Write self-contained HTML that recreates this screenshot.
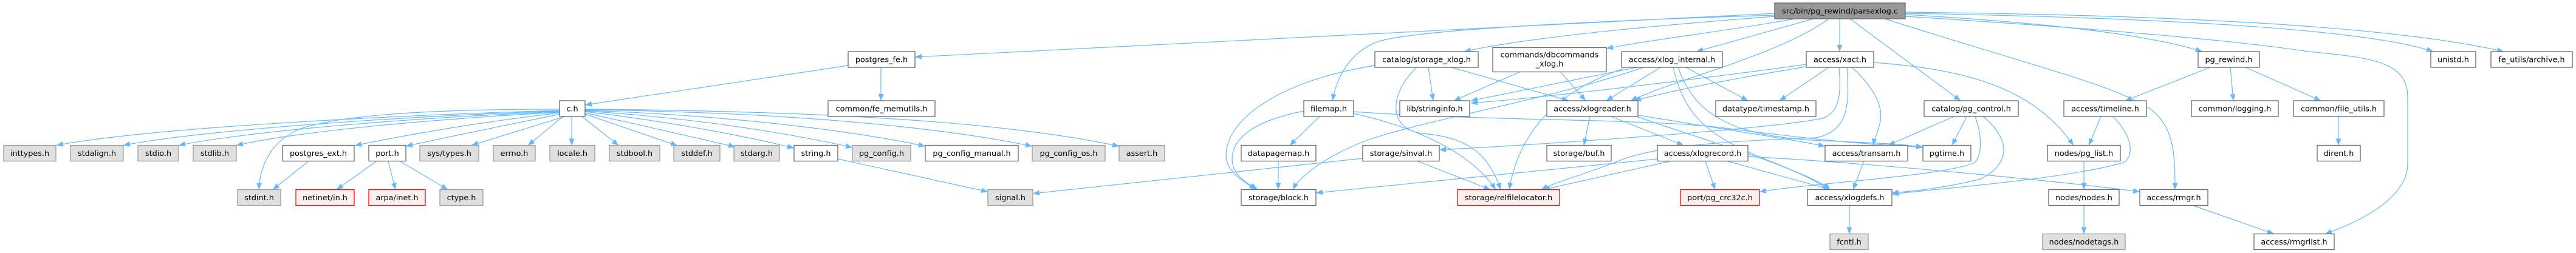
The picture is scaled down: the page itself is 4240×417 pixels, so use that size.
<!DOCTYPE html>
<html><head><meta charset="utf-8">
<style>
html,body{margin:0;padding:0;background:#fff;}
svg{display:block;}
text{font-family:"DejaVu Sans","Liberation Sans",sans-serif;font-size:12.8px;fill:#000;text-anchor:middle;}
.e{fill:none;stroke:#63b8ff;stroke-width:1.2;marker-end:url(#a);}
.w{fill:#fff;stroke:#666;stroke-width:1.3;}
.g{fill:#e0e0e0;stroke:#999;stroke-width:1.3;}
.r{fill:#fff0f0;stroke:#ff0000;stroke-width:1.3;}
.root{fill:#999;stroke:#666;stroke-width:1.3;}
</style></head>
<body>
<svg width="4240" height="417" viewBox="0 0 4240 417" xmlns="http://www.w3.org/2000/svg">
<defs>
<marker id="a" markerWidth="11" markerHeight="9" refX="11" refY="4.5" orient="auto" markerUnits="userSpaceOnUse"><path d="M0,0 L11,4.5 L0,9 z" fill="#63b8ff"/></marker>
</defs>
<g>
<!-- c.h fan-out -->
<path class="e" d="M921,182 C650,190 250,210 93,239.5"/>
<path class="e" d="M921,183 C650,192 330,215 203,239.5"/>
<path class="e" d="M921,184 C680,194 420,215 294,239.5"/>
<path class="e" d="M921,185 C720,196 500,215 389,239.5"/>
<path class="e" d="M921,180 C700,180 560,190 495,212 C440,235 428,280 426,312.5"/>
<path class="e" d="M921,186 C800,200 680,220 584,240"/>
<path class="e" d="M922,188 C840,205 740,225 668,241"/>
<path class="e" d="M930,192 L776,239.5"/>
<path class="e" d="M927,192 L869,239.5"/>
<path class="e" d="M941,192 L941,239.5"/>
<path class="e" d="M958,192 L1018,239.5"/>
<path class="e" d="M963,188 L1115,240"/>
<path class="e" d="M963,186 C1050,205 1150,228 1210,242"/>
<path class="e" d="M963,184 C1100,200 1230,225 1307,244"/>
<path class="e" d="M963,183 C1150,195 1300,220 1403,243"/>
<path class="e" d="M963,182 C1200,190 1400,215 1523,241"/>
<path class="e" d="M963,181 C1300,185 1550,210 1699,241"/>
<path class="e" d="M963,180 C1350,183 1650,200 1842,241"/>
<path class="e" d="M508,265.5 L449,312.5"/>
<path class="e" d="M620,265.5 L554,312.5"/>
<path class="e" d="M639,265.5 L651,312.5"/>
<path class="e" d="M658,265.5 L737,312.5"/>
<path class="e" d="M1379,262 L1626,316"/>
<path class="e" d="M2243,261 L1700,319"/>
<path class="e" d="M1396,108 L963,173"/>
<path class="e" d="M1450,111 L1450,166"/>
<!-- root edges -->
<path class="e" d="M2921,22 L1506,94"/>
<path class="e" d="M2921,27 C2750,40 2520,60 2410,85"/>
<path class="e" d="M2921,25 C2600,35 2330,50 2270,68 C2220,85 2200,130 2193,166"/>
<path class="e" d="M2954,31 C2850,50 2720,65 2644,80"/>
<path class="e" d="M2985,31 L2792,85"/>
<path class="e" d="M3010,31 C2930,90 2760,130 2684,166"/>
<path class="e" d="M3028,31 L3028,85"/>
<path class="e" d="M3045,31 L3227,166"/>
<path class="e" d="M3102,31 C3350,110 3480,140 3540,180 C3580,210 3580,260 3580,312.5"/>
<path class="e" d="M3136,24 Q3500,45 3625,85"/>
<path class="e" d="M3136,27 C3500,50 3700,70 3800,85 C3900,95 3963,100 3963,160 L3963,270 C3963,320 3900,360 3827,385.5"/>
<path class="e" d="M3136,22 C3600,30 3900,50 4005,85"/>
<path class="e" d="M3136,20 C3600,25 3950,45 4121,85"/>
<!-- right part -->
<path class="e" d="M3638,111 L3498,166"/>
<path class="e" d="M3671,111 L3676,166"/>
<path class="e" d="M3696,111 L3820,166"/>
<path class="e" d="M3849,192 L3849,239.5"/>
<path class="e" d="M3216,192 L3108,239.5"/>
<path class="e" d="M3237,192 L3213,239.5"/>
<path class="e" d="M3264,192 C3310,230 3310,270 3260,295 C3200,310 3150,315 3114,318"/>
<path class="e" d="M3251,192 C3265,230 3260,260 3250,268 C3200,290 3000,300 2896,316"/>
<path class="e" d="M3084,103 C3250,115 3350,150 3413,239.5"/>
<path class="e" d="M3458,192 L3438,239.5"/>
<path class="e" d="M3478,192 C3515,230 3510,260 3495,268 C3400,295 3200,310 3114,320"/>
<path class="e" d="M3430,265.5 L3430,312.5"/>
<path class="e" d="M3430,338.5 L3430,385.5"/>
<path class="e" d="M3609,338.5 L3743,385.5"/>
<path class="e" d="M2877,258 C3100,270 3400,300 3522,316"/>
<!-- middle -->
<path class="e" d="M2263,108 C2120,130 2020,190 2018,255 C2018,285 2050,300 2067,312.5"/>
<path class="e" d="M2351,111 L2359,166"/>
<path class="e" d="M2389,111 L2582,166"/>
<path class="e" d="M2332,111 C2290,150 2280,210 2340,220 C2410,225 2450,250 2470,312.5"/>
<path class="e" d="M2228,187 C2330,210 2420,250 2462,312.5"/>
<path class="e" d="M2228,184 C2450,200 2700,195 2830,210 C2950,225 3050,238 3165,242"/>
<path class="e" d="M2697,190 C2850,215 2950,230 3004,241"/>
<path class="e" d="M2172,192 L2123,239.5"/>
<path class="e" d="M2146,183 C2060,200 2028,230 2028,262 C2028,290 2055,303 2070,312.5"/>
<path class="e" d="M2104,265.5 L2104,312.5"/>
<path class="e" d="M2503,118 L2393,166"/>
<path class="e" d="M2568,118 L2610,166"/>
<path class="e" d="M2694,111 L2421,166"/>
<path class="e" d="M2705,111 C2550,165 2330,200 2240,235 C2180,260 2140,290 2128,312.5"/>
<path class="e" d="M2733,111 L2644,166"/>
<path class="e" d="M2775,111 L2877,166"/>
<path class="e" d="M2673,113 C2560,150 2500,220 2484,312.5"/>
<path class="e" d="M2754,111 C2770,180 2800,220 2900,260 C2960,285 3000,300 3012,312.5"/>
<path class="e" d="M2762,111 C2790,190 2850,225 3000,232 C3100,236 3140,238 3165,243"/>
<path class="e" d="M2973,106 C2800,130 2550,160 2421,170"/>
<path class="e" d="M2973,110 C2850,130 2750,150 2690,166"/>
<path class="e" d="M3010,111 L2929,166"/>
<path class="e" d="M3027,111 C3030,150 3030,185 3000,195 C2900,215 2500,240 2369,247"/>
<path class="e" d="M3040,111 C3045,180 3040,215 2990,227 C2850,232 2720,240 2660,267 C2600,290 2560,300 2537,312.5"/>
<path class="e" d="M3048,111 C3080,140 3100,170 3095,200 C3090,220 3085,230 3083,239.5"/>
<path class="e" d="M2617,192 L2607,239.5"/>
<path class="e" d="M2652,192 L2771,239.5"/>
<path class="e" d="M2694,192 C2800,230 2950,270 3010,312.5"/>
<path class="e" d="M2807,265.5 L2823,312.5"/>
<path class="e" d="M2843,265.5 L3013,312.5"/>
<path class="e" d="M2750,265.5 L2540,312.5"/>
<path class="e" d="M2728,262 L2166,318"/>
<path class="e" d="M3068,265.5 L3050,312.5"/>
<path class="e" d="M2333,265.5 L2453,312.5"/>
<path class="e" d="M3044,338.5 L3044,385.5"/>
</g>
<g>
<!-- Row0 -->
<rect class="root" x="2921" y="5" width="215" height="26"/><text x="3028.5" y="22.5">src/bin/pg_rewind/parsexlog.c</text>
<!-- Row1 -->
<rect class="w" x="1396" y="85" width="110" height="26"/><text x="1451" y="102.5">postgres_fe.h</text>
<rect class="w" x="2263" y="85" width="170" height="26"/><text x="2348" y="102.5">catalog/storage_xlog.h</text>
<rect class="w" x="2457" y="78.5" width="187" height="40"/><text x="2550.5" y="94.5">commands/dbcommands</text><text x="2550.5" y="109.5">_xlog.h</text>
<rect class="w" x="2669" y="85" width="166" height="26"/><text x="2752" y="102.5">access/xlog_internal.h</text>
<rect class="w" x="2973" y="85" width="111" height="26"/><text x="3028.5" y="102.5">access/xact.h</text>
<rect class="w" x="3618" y="85" width="101" height="26"/><text x="3668.5" y="102.5">pg_rewind.h</text>
<rect class="w" x="4001" y="85" width="74" height="26"/><text x="4038" y="102.5">unistd.h</text>
<rect class="w" x="4100" y="85" width="134" height="26"/><text x="4167" y="102.5">fe_utils/archive.h</text>
<!-- Row2 -->
<rect class="w" x="921" y="166" width="42" height="26"/><text x="942" y="183.5">c.h</text>
<rect class="w" x="1363" y="166" width="176" height="26"/><text x="1451" y="183.5">common/fe_memutils.h</text>
<rect class="w" x="2146" y="166" width="82" height="26"/><text x="2187" y="183.5">filemap.h</text>
<rect class="w" x="2304" y="166" width="115" height="26"/><text x="2361.5" y="183.5">lib/stringinfo.h</text>
<rect class="w" x="2546" y="166" width="150" height="26"/><text x="2621" y="183.5">access/xlogreader.h</text>
<rect class="w" x="2824" y="166" width="165" height="26"/><text x="2906.5" y="183.5">datatype/timestamp.h</text>
<rect class="w" x="3167" y="166" width="155" height="26"/><text x="3244.5" y="183.5">catalog/pg_control.h</text>
<rect class="w" x="3397" y="166" width="136" height="26"/><text x="3465" y="183.5">access/timeline.h</text>
<rect class="w" x="3607" y="166" width="143" height="26"/><text x="3678.5" y="183.5">common/logging.h</text>
<rect class="w" x="3775" y="166" width="149" height="26"/><text x="3849.5" y="183.5">common/file_utils.h</text>
<!-- Row3 -->
<rect class="g" x="6" y="239.5" width="86" height="26"/><text x="49" y="257">inttypes.h</text>
<rect class="g" x="116" y="239.5" width="87" height="26"/><text x="159.5" y="257">stdalign.h</text>
<rect class="g" x="227" y="239.5" width="67" height="26"/><text x="260.5" y="257">stdio.h</text>
<rect class="g" x="318" y="239.5" width="71" height="26"/><text x="353.5" y="257">stdlib.h</text>
<rect class="w" x="465" y="239.5" width="118" height="26"/><text x="524" y="257">postgres_ext.h</text>
<rect class="w" x="607" y="239.5" width="61" height="26"/><text x="637.5" y="257">port.h</text>
<rect class="g" x="691" y="239.5" width="97" height="26"/><text x="739.5" y="257">sys/types.h</text>
<rect class="g" x="812" y="239.5" width="69" height="26"/><text x="846.5" y="257">errno.h</text>
<rect class="g" x="905" y="239.5" width="74" height="26"/><text x="942" y="257">locale.h</text>
<rect class="g" x="1003" y="239.5" width="83" height="26"/><text x="1044.5" y="257">stdbool.h</text>
<rect class="g" x="1109" y="239.5" width="76" height="26"/><text x="1147" y="257">stddef.h</text>
<rect class="g" x="1208" y="239.5" width="75" height="26"/><text x="1245.5" y="257">stdarg.h</text>
<rect class="w" x="1307" y="239.5" width="72" height="26"/><text x="1343" y="257">string.h</text>
<rect class="g" x="1403" y="239.5" width="96" height="26"/><text x="1451" y="257">pg_config.h</text>
<rect class="w" x="1523" y="239.5" width="153" height="26"/><text x="1599.5" y="257">pg_config_manual.h</text>
<rect class="g" x="1699" y="239.5" width="120" height="26"/><text x="1759" y="257">pg_config_os.h</text>
<rect class="g" x="1842" y="239.5" width="75" height="26"/><text x="1879.5" y="257">assert.h</text>
<rect class="w" x="2043" y="239.5" width="123" height="26"/><text x="2104.5" y="257">datapagemap.h</text>
<rect class="w" x="2243" y="239.5" width="126" height="26"/><text x="2306" y="257">storage/sinval.h</text>
<rect class="w" x="2546" y="239.5" width="106" height="26"/><text x="2599" y="257">storage/buf.h</text>
<rect class="w" x="2728" y="239.5" width="149" height="26"/><text x="2802.5" y="257">access/xlogrecord.h</text>
<rect class="w" x="3004" y="239.5" width="136" height="26"/><text x="3072" y="257">access/transam.h</text>
<rect class="w" x="3165" y="239.5" width="79" height="26"/><text x="3204.5" y="257">pgtime.h</text>
<rect class="w" x="3370" y="239.5" width="120" height="26"/><text x="3430" y="257">nodes/pg_list.h</text>
<rect class="w" x="3814" y="239.5" width="71" height="26"/><text x="3849.5" y="257">dirent.h</text>
<!-- Row4 -->
<rect class="g" x="391" y="312.5" width="71" height="26"/><text x="426.5" y="330">stdint.h</text>
<rect class="r" x="487" y="312.5" width="96" height="26"/><text x="535" y="330">netinet/in.h</text>
<rect class="r" x="607" y="312.5" width="93" height="26"/><text x="653.5" y="330">arpa/inet.h</text>
<rect class="g" x="724" y="312.5" width="71" height="26"/><text x="759.5" y="330">ctype.h</text>
<rect class="g" x="1626" y="312.5" width="74" height="26"/><text x="1663" y="330">signal.h</text>
<rect class="w" x="2043" y="312.5" width="123" height="26"/><text x="2104.5" y="330">storage/block.h</text>
<rect class="r" x="2399" y="312.5" width="168" height="26"/><text x="2483" y="330">storage/relfilelocator.h</text>
<rect class="r" x="2766" y="312.5" width="130" height="26"/><text x="2831" y="330">port/pg_crc32c.h</text>
<rect class="w" x="2975" y="312.5" width="139" height="26"/><text x="3044.5" y="330">access/xlogdefs.h</text>
<rect class="w" x="3372" y="312.5" width="116" height="26"/><text x="3430" y="330">nodes/nodes.h</text>
<rect class="w" x="3522" y="312.5" width="112" height="26"/><text x="3578" y="330">access/rmgr.h</text>
<!-- Row5 -->
<rect class="g" x="3012" y="385.5" width="63" height="26"/><text x="3043.5" y="403">fcntl.h</text>
<rect class="g" x="3362" y="385.5" width="136" height="26"/><text x="3430" y="403">nodes/nodetags.h</text>
<rect class="w" x="3710" y="385.5" width="132" height="26"/><text x="3776" y="403">access/rmgrlist.h</text>
</g>
</svg>
</body></html>
